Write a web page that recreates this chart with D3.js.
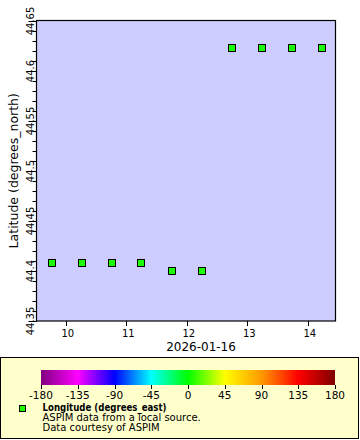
<!DOCTYPE html>
<html><head><meta charset="utf-8">
<script src="https://cdn.jsdelivr.net/npm/d3@7"></script>
<style>body{margin:0;background:#fff}svg{display:block;font-family:"DejaVu Sans",sans-serif}</style>
</head><body>
<svg id="c" width="360" height="440"></svg>
<script>
// Data
const times = ["09:46","10:16","10:46","11:15","11:45","12:15","12:45","13:15","13:44","14:14"];
const latitudes = [44.408,44.408,44.408,44.408,44.400,44.400,44.623,44.623,44.623,44.623];
const longitudes = [5,5,5,5,5,5,5,5,5,5];
const xTickHours = [10,11,12,13,14];
const yTicks = [44.35,44.4,44.45,44.5,44.55,44.6,44.65];
const cbTicks = [-180,-135,-90,-45,0,45,90,135,180];
const cbColors = ["#800080","#ff00ff","#0000ff","#00ffff","#00ff00","#ffff00","#ff9900","#ff0000","#800000"];
const dateLabel = "2026-01-16";
const yTitle = "Latitude (degrees_north)";
const legendLines = ["Longitude (degrees_east)","ASPIM data from a local source.","Data courtesy of ASPIM"];

const day = "2026-01-16T";
const parse = d3.utcParse("%Y-%m-%dT%H:%M");
const tDates = times.map(t => parse(day + t));

const svg = d3.select("#c");
const L = 36.5, R = 335.5, T = 20.5, B = 321;

const x = d3.scaleUtc().domain([parse(day+"09:31"), d3.utcParse("%Y-%m-%dT%H:%M:%S")(day+"14:27:30")]).range([L, R]);
const y = d3.scaleLinear().domain([44.35, 44.65]).range([B, T + 0.5]);
const color = d3.scaleLinear().domain(cbTicks).range(cbColors).clamp(true);

svg.append("rect").attr("x", L).attr("y", T).attr("width", R - L).attr("height", B - T)
  .attr("fill", "#ccccff").attr("stroke", "#000").attr("stroke-width", 1.2);

// Y axis ticks (major + minor)
const minor = d3.range(0, 31).map(i => 44.35 + i * 0.01);
svg.append("g").selectAll("line").data(minor).join("line")
  .attr("x1", (d, i) => i % 5 === 0 ? L - 8 : L - 4).attr("x2", L)
  .attr("y1", d => Math.round(y(d)) + 0.5).attr("y2", d => Math.round(y(d)) + 0.5)
  .attr("stroke", "#000");
svg.append("g").selectAll("text").data(yTicks).join("text")
  .attr("transform", d => `translate(33.5,${y(d)}) rotate(-90)`)
  .attr("text-anchor", "middle").attr("font-size", 10).text(d => String(+d.toFixed(2)));

// X axis
const xTicks = xTickHours.map(h => parse(day + String(h).padStart(2, "0") + ":00"));
svg.append("g").selectAll("line").data(xTicks).join("line")
  .attr("x1", d => Math.round(x(d)) + 0.5).attr("x2", d => Math.round(x(d)) + 0.5)
  .attr("y1", B).attr("y2", B + 5).attr("stroke", "#000");
svg.append("g").selectAll("text").data(xTicks).join("text")
  .attr("x", d => x(d) + 2).attr("y", 336.5).attr("text-anchor", "middle").attr("font-size", 10)
  .text(d => d3.utcFormat("%H")(d).replace(/^0/, ""));
svg.append("text").attr("x", 201).attr("y", 350.5).attr("text-anchor", "middle").attr("font-size", 12).text(dateLabel);
svg.append("text").attr("transform", `translate(17.5,${(T + B) / 2}) rotate(-90)`).attr("text-anchor", "middle")
  .attr("font-size", 12.5).text(yTitle);

// Points
svg.append("g").selectAll("rect").data(tDates).join("rect")
  .attr("x", d => Math.round(x(d)) - 3.5).attr("y", (d, i) => Math.round(y(latitudes[i])) - 3.5)
  .attr("width", 7).attr("height", 7)
  .attr("fill", (d, i) => color(longitudes[i])).attr("stroke", "#000").attr("stroke-width", 1);

// Legend
svg.append("rect").attr("x", 0.5).attr("y", 357.5).attr("width", 358).attr("height", 81)
  .attr("fill", "#ffffcc").attr("stroke", "#000");
const cb = d3.scaleLinear().domain([-180, 180]).range([41, 335]);
const defs = svg.append("defs");
const grad = defs.append("linearGradient").attr("id", "cbg");
cbTicks.forEach((v, i) => grad.append("stop").attr("offset", (v + 180) / 360).attr("stop-color", cbColors[i]));
svg.append("rect").attr("x", 41).attr("y", 370).attr("width", 294).attr("height", 15).attr("fill", "url(#cbg)");
svg.append("g").selectAll("line").data(cbTicks).join("line")
  .attr("x1", d => Math.round(cb(d)) + 0.5).attr("x2", d => Math.round(cb(d)) + 0.5)
  .attr("y1", 385).attr("y2", 389).attr("stroke", "#000");
svg.append("g").selectAll("text").data(cbTicks).join("text")
  .attr("x", d => cb(d)).attr("y", 399).attr("text-anchor", "middle").attr("font-size", 10.5).text(d => d);
svg.append("rect").attr("x", 19.5).attr("y", 405.5).attr("width", 6).attr("height", 6)
  .attr("fill", color(longitudes[0])).attr("stroke", "#000");
svg.append("g").selectAll("text").data(legendLines).join("text")
  .attr("x", 42.5).attr("y", (d, i) => 411 + i * 10).attr("font-size", 10)
  .attr("font-weight", (d, i) => i === 0 ? "bold" : "normal")
  .each(function (d, i) { if (i === 0) d3.select(this).attr("textLength", 124).attr("lengthAdjust", "spacingAndGlyphs"); })
  .text(d => d);
</script>
</body></html>
